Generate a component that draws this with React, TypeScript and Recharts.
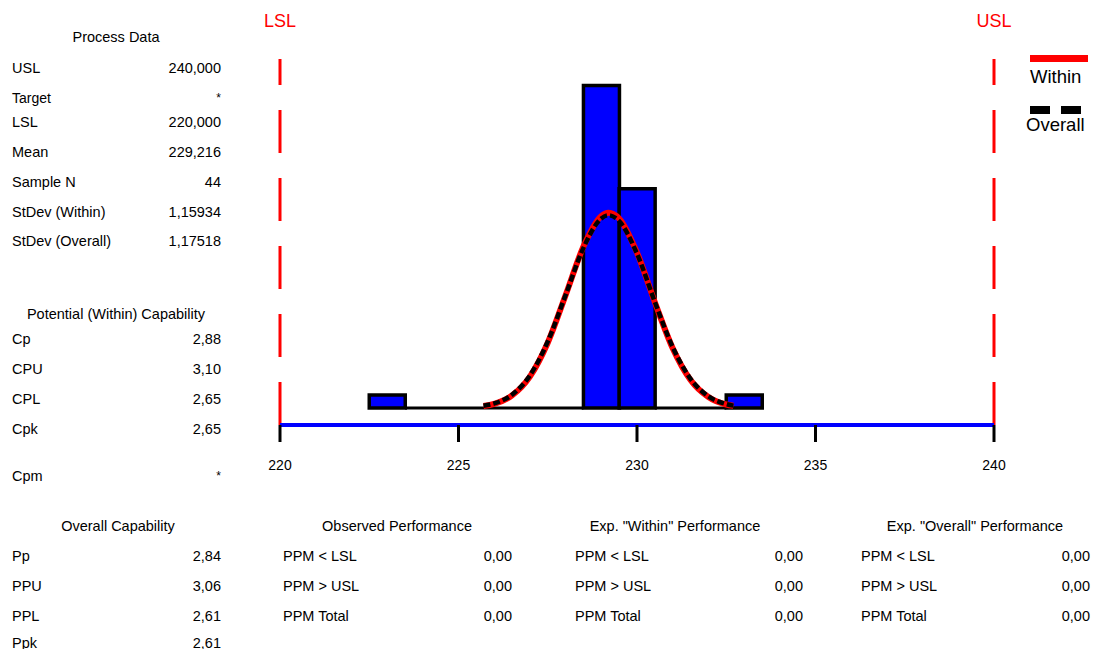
import { Bar, ComposedChart, Line, ReferenceLine, XAxis, YAxis } from "recharts";

// histogram bins (centre, count), one unit wide
const binCenters = [223, 224, 225, 226, 227, 228, 229, 230, 231, 232, 233];
const binCounts = [1, 0, 0, 0, 0, 0, 25, 17, 0, 0, 1];
// empty bins shown as a line on the base
const emptySpans = [
  [223.5, 228.5],
  [230.5, 232.5],
];

// fitted curves
const curveX = [225.7, 226, 226.5, 227, 227.5, 228, 228.5, 229, 229.2, 229.5, 230, 230.5, 231, 231.5, 232, 232.5, 232.7];
const withinY = [0.15, 0.32, 0.97, 2.43, 5.06, 8.74, 12.51, 14.88, 15.14, 14.69, 12.04, 8.2, 4.63, 2.17, 0.85, 0.27, 0.17];
const overallY = [0.17, 0.35, 1.03, 2.52, 5.15, 8.75, 12.41, 14.69, 14.94, 14.49, 11.96, 8.22, 4.72, 2.26, 0.9, 0.3, 0.18];

const xTicks = [220, 225, 230, 235, 240];
const LSL = 220;
const USL = 240;

const processData = [
  ["USL", "240,000", 68],
  ["Target", "*", 98],
  ["LSL", "220,000", 122],
  ["Mean", "229,216", 152],
  ["Sample N", "44", 182],
  ["StDev (Within)", "1,15934", 212],
  ["StDev (Overall)", "1,17518", 241],
];
const potential = [
  ["Cp", "2,88", 339],
  ["CPU", "3,10", 369],
  ["CPL", "2,65", 399],
  ["Cpk", "2,65", 429],
  ["Cpm", "*", 476],
];
const overallCap = [
  ["Pp", "2,84"],
  ["PPU", "3,06"],
  ["PPL", "2,61"],
  ["Ppk", "2,61"],
];
const ppmRows = ["PPM < LSL", "PPM > USL", "PPM Total"];
const observed = ["0,00", "0,00", "0,00"];
const expWithin = ["0,00", "0,00", "0,00"];
const expOverall = ["0,00", "0,00", "0,00"];
const rowY = [556, 586, 616, 643];

const binData = binCenters.map((x, i) => ({ x, count: binCounts[i] }));
const withinData = curveX.map((x, i) => ({ x, v: withinY[i] }));
const overallData = curveX.map((x, i) => ({ x, v: overallY[i] }));

const font = "'Liberation Sans', Arial, sans-serif";

function Txt({ x, y, children, align = "left", size = 14.5, color = "#000", w = 300 }: any) {
  const left = align === "left" ? x : align === "right" ? x - w : x - w / 2;
  return (
    <div
      style={{
        position: "absolute",
        left,
        top: y,
        width: w,
        transform: "translateY(-50%)",
        textAlign: align,
        fontSize: size,
        lineHeight: 1,
        color,
        whiteSpace: "nowrap",
      }}
    >
      {children}
    </div>
  );
}

function PpmBlock({ title, cx, lx, rx, values }: any) {
  return (
    <>
      <Txt x={cx} y={526} align="center">{title}</Txt>
      {ppmRows.map((r, i) => (
        <Txt key={r} x={lx} y={rowY[i]}>{r}</Txt>
      ))}
      {values.map((v: string, i: number) => (
        <Txt key={i} x={rx} y={rowY[i]} align="right">{v}</Txt>
      ))}
    </>
  );
}

export default function App() {
  return (
    <div style={{ position: "absolute", left: 0, top: 0, width: 1094, height: 649, fontFamily: font, background: "#fff" }}>
      <div style={{ position: "absolute", left: 0, top: 0 }}>
        <ComposedChart
          width={1094}
          height={649}
          data={binData}
          barCategoryGap={0}
          barGap={0}
          margin={{ top: 59, right: 100, left: 280, bottom: 194 }}
        >
          <XAxis
            dataKey="x"
            type="number"
            domain={[220, 240]}
            ticks={xTicks}
            height={30}
            axisLine={{ stroke: "#0000ff", strokeWidth: 4 }}
            tickLine={{ stroke: "#000", strokeWidth: 3 }}
            tickSize={17}
            tickMargin={18}
            tick={{ fill: "#000", fontSize: 14, fontFamily: font }}
          />
          <XAxis xAxisId="curve" dataKey="x" type="number" domain={[220, 240]} hide />
          <YAxis hide type="number" domain={[-1.32, 27.05]} allowDataOverflow />
          {emptySpans.map(([a, b], i) => (
            <ReferenceLine
              key={i}
              segment={[
                { x: a, y: 0 },
                { x: b, y: 0 },
              ]}
              stroke="#000"
              strokeWidth={3}
            />
          ))}
          <Bar dataKey="count" fill="#0000ff" stroke="#000" strokeWidth={3.5} isAnimationActive={false} />
          <Line
            xAxisId="curve"
            data={withinData}
            dataKey="v"
            type="monotone"
            stroke="#ff0000"
            strokeWidth={6}
            dot={false}
            isAnimationActive={false}
          />
          <Line
            xAxisId="curve"
            data={overallData}
            dataKey="v"
            type="monotone"
            stroke="#000"
            strokeWidth={4.5}
            strokeDasharray="7 3"
            dot={false}
            isAnimationActive={false}
          />
          <ReferenceLine
            x={LSL}
            stroke="#ff0000"
            strokeWidth={3}
            strokeDasharray="43 25"
            label={{ value: "LSL", position: "top", offset: 32, fill: "#ff0000", fontSize: 18, fontFamily: font }}
          />
          <ReferenceLine
            x={USL}
            stroke="#ff0000"
            strokeWidth={3}
            strokeDasharray="43 25"
            label={{ value: "USL", position: "top", offset: 32, fill: "#ff0000", fontSize: 18, fontFamily: font }}
          />
        </ComposedChart>
      </div>

      {/* legend */}
      <div style={{ position: "absolute", left: 1030, top: 55, width: 58, height: 7, background: "#ff0000" }} />
      <Txt x={1030} y={77} size={18.5}>Within</Txt>
      <div style={{ position: "absolute", left: 1030, top: 106, width: 20, height: 8, background: "#000" }} />
      <div style={{ position: "absolute", left: 1061, top: 106, width: 20, height: 8, background: "#000" }} />
      <Txt x={1026} y={125} size={18.5}>Overall</Txt>

      {/* process data */}
      <Txt x={116} y={37} align="center">Process Data</Txt>
      {processData.map(([l, v, y]) => (
        <div key={l as string}>
          <Txt x={12} y={y} size={l === "Target" ? 14 : 14.5}>{l}</Txt>
          <Txt x={221} y={y} align="right" size={v === "*" ? 12 : 14.5}>{v}</Txt>
        </div>
      ))}

      <Txt x={116} y={314} align="center">Potential (Within) Capability</Txt>
      {potential.map(([l, v, y]) => (
        <div key={l as string}>
          <Txt x={12} y={y}>{l}</Txt>
          <Txt x={221} y={y} align="right" size={v === "*" ? 12 : 14.5}>{v}</Txt>
        </div>
      ))}

      <Txt x={118} y={526} align="center">Overall Capability</Txt>
      {overallCap.map(([l, v], i) => (
        <div key={l}>
          <Txt x={12} y={rowY[i]}>{l}</Txt>
          <Txt x={221} y={rowY[i]} align="right">{v}</Txt>
        </div>
      ))}

      <PpmBlock title="Observed Performance" cx={397} lx={283} rx={512} values={observed} />
      <PpmBlock title={'Exp. "Within" Performance'} cx={675} lx={575} rx={803} values={expWithin} />
      <PpmBlock title={'Exp. "Overall" Performance'} cx={975} lx={861} rx={1090} values={expOverall} />
    </div>
  );
}
